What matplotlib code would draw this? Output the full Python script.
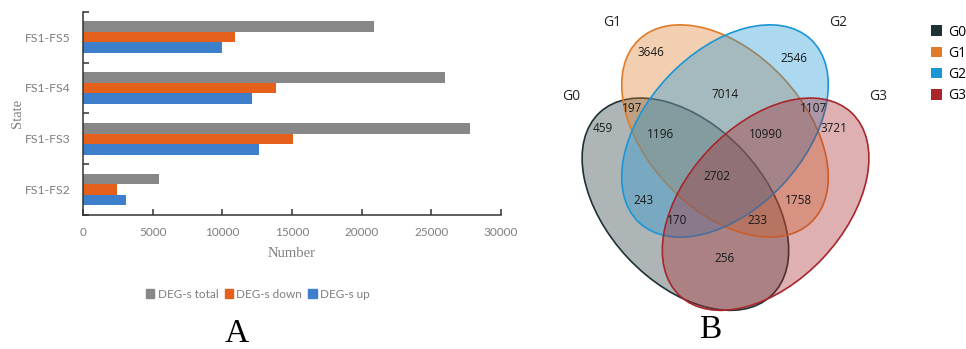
import matplotlib
matplotlib.use("Agg")
import matplotlib.pyplot as plt
import numpy as np
from matplotlib.patches import Ellipse, Patch

# 数据
states = ["FS1-FS2", "FS1-FS3", "FS1-FS4", "FS1-FS5"]
deg_total = [5480, 27750, 26000, 20900]
deg_down = [2420, 15050, 13850, 10900]
deg_up = [3060, 12650, 12100, 10000]
series_names = ["DEG-s total", "DEG-s down", "DEG-s up"]

groups = ["G0", "G1", "G2", "G3"]
venn_regions = ["0", "1", "2", "3", "01", "12", "23", "03", "02", "13",
                "012", "123", "023", "013", "0123"]
venn_counts = [459, 3646, 2546, 3721, 197, 7014, 1107, 256, 243, 1758,
               1196, 10990, 170, 233, 2702]

# 样式
bar_colors = ["#878787", "#E5601A", "#3D7FCB"]
venn_colors = ["#1E3236", "#E07B28", "#1A96D6", "#A8262C"]
tick_gray = "#7F7F7F"

fig = plt.figure(figsize=(9.66, 3.49), dpi=100)

# ---------- A: 条形图 ----------
ax = fig.add_axes([83 / 966, 1 - 215 / 349, 418 / 966, 203.3 / 349])
y = np.arange(len(states))
h = 0.207
ax.barh(y + h, deg_total, height=h, color=bar_colors[0], label=series_names[0])
ax.barh(y, deg_down, height=h, color=bar_colors[1], label=series_names[1])
ax.barh(y - h, deg_up, height=h, color=bar_colors[2], label=series_names[2])
ax.set_xlim(0, 30000)
ax.set_ylim(-0.5, len(states) - 0.5)
ax.set_xticks(np.arange(0, 30001, 5000))
ax.set_yticks(y)
ax.set_yticklabels(states)
ax.set_yticks(np.arange(-0.5, len(states), 1.0), minor=True)
for s in ["top", "right"]:
    ax.spines[s].set_visible(False)
for s in ["left", "bottom"]:
    ax.spines[s].set_color("#333333")
    ax.spines[s].set_linewidth(1.1)
ax.tick_params(axis="x", direction="in", length=4, width=1.1, color="#333333",
               labelsize=8.5, labelcolor=tick_gray, pad=9)
ax.tick_params(axis="y", which="major", length=0, labelsize=8.8,
               labelcolor=tick_gray, pad=9)
ax.tick_params(axis="y", which="minor", direction="in", length=4, width=1.1,
               color="#333333")
for lab in ax.get_xticklabels() + ax.get_yticklabels():
    lab.set_family("Lato")
ax.set_xlabel("Number", family="Liberation Serif", fontsize=10.5,
              color=tick_gray, labelpad=6)
ax.set_ylabel("State", family="Liberation Serif", fontsize=10.5, color=tick_gray)
ax.yaxis.set_label_coords((24 - 83) / 418, 0.5)

handles = [Patch(color=c) for c in bar_colors]
fig.legend(handles, series_names, loc="center", bbox_to_anchor=(258 / 966, 1 - 294 / 349),
           ncol=3, frameon=False, handlelength=0.7, handleheight=0.7,
           handletextpad=0.3, columnspacing=0.5,
           prop={"family": "Lato", "size": 8.5}, labelcolor=tick_gray)

fig.text(237 / 966, 1 - 334 / 349, "A", family="Liberation Serif", fontsize=24,
         ha="center", va="center")

# ---------- B: 韦恩图 ----------
vx = fig.add_axes([540 / 966, 0, 426 / 966, 1])
vx.set_xlim(540, 966)
vx.set_ylim(349, 0)
vx.axis("off")

ell_centers = [(685.4, 204.2), (725.0, 131.0), (725.0, 131.0), (765.6, 204.2)]
ell_angles = [46.8, 46.8, -46.8, -46.8]
for (cx, cy), ang, col in zip(ell_centers, ell_angles, venn_colors):
    vx.add_patch(Ellipse((cx, cy), 251, 157.4, angle=ang,
                         facecolor=matplotlib.colors.to_rgba(col, 0.36),
                         edgecolor=col, linewidth=1.2))

label_pos = {
    "0": (603, 129), "1": (651, 52), "2": (794, 58), "3": (834, 129),
    "01": (632, 109), "12": (725, 94), "23": (814, 109), "03": (725, 258),
    "02": (644, 200), "13": (798, 200), "012": (661, 134), "123": (766, 134),
    "023": (677, 221), "013": (757, 221), "0123": (717, 176),
}
for reg, cnt in zip(venn_regions, venn_counts):
    px, py = label_pos[reg]
    vx.text(px, py, str(cnt), ha="center", va="center", fontsize=8.5,
            family="Open Sans", color="#1a1a1a")

group_pos = [(571, 96), (612, 23), (838, 23), (878, 96)]
for g, (px, py) in zip(groups, group_pos):
    vx.text(px, py, g, ha="center", va="center", fontsize=10,
            family="Open Sans", color="#222222")

vhandles = [Patch(facecolor=c, edgecolor="none") for c in venn_colors]
fig.legend(vhandles, groups, loc="upper left", bbox_to_anchor=(918 / 966, 1 - 12 / 349),
           frameon=False, handlelength=0.8, handleheight=0.8, handletextpad=0.5,
           labelspacing=0.45, prop={"family": "Open Sans", "size": 10})

fig.text(710 / 966, 1 - 330 / 349, "B", family="Liberation Serif", fontsize=24,
         ha="center", va="center")

fig.savefig("out.png", dpi=100)
